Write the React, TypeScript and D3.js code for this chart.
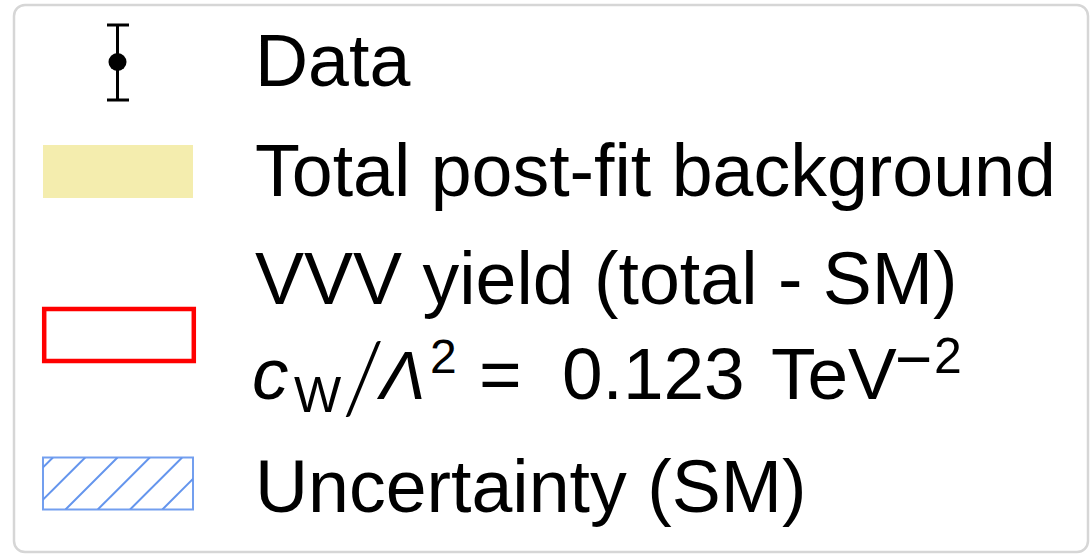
import React from "react";
import * as d3 from "d3";

const W = 1091;
const H = 555;

// Legend entries (labels)
const entryKeys = ["data", "background", "signal", "uncertainty"];
const entryLabels = ["Data", "Total post-fit background", "VVV yield (total - SM)", "Uncertainty (SM)"];
const mathPieces = ["c", "W", "/", "Λ", "2", "=", "0.123", "TeV", "−", "2"];
const entryColors = ["#000000", "#f4edae", "#ff0000", "#6495ed"];

const FONT = "'Liberation Sans', Arial, Helvetica, sans-serif";

export default function App() {
  // vertical slots for each legend row (centre of the handle)
  const rowY = d3.scaleOrdinal<string, number>().domain(entryKeys).range([62, 171.5, 335, 483.5]);
  const textBase = d3.scaleOrdinal<string, number>().domain(entryKeys).range([86, 195.5, 304, 511.5]);
  const handleX = d3.scaleLinear().domain([0, 1]).range([43, 193]);
  const hx0 = handleX(0);
  const hx1 = handleX(1);
  const hw = hx1 - hx0;
  const hh = 52;
  const textX = 255;
  const fs = 73.5;
  const fsSmall = 50;

  const hatchTop = rowY("uncertainty") - hh / 2;
  const hatchBot = rowY("uncertainty") + hh / 2;
  const hatchSpacing = 32.3;
  // lines x + y = const
  const consts = d3.range(575 - hatchSpacing * 8, 575 + hatchSpacing * 8, hatchSpacing);

  return (
    <svg width={W} height={H} style={{ position: "absolute", left: 0, top: 0, background: "#fff" }}>
      <defs>
        <clipPath id="hatchClip">
          <rect x={hx0} y={hatchTop} width={hw} height={hh} />
        </clipPath>
      </defs>
      <rect x={0} y={0} width={W} height={H} fill="#ffffff" />
      {/* frame */}
      <rect x={14} y={5} width={1074} height={547} rx={11} ry={11} fill="#ffffff" stroke="#d6d6d6" strokeWidth={2.5} />

      {/* Data marker */}
      <g stroke={entryColors[0]} strokeWidth={3}>
        <line x1={117.5} x2={117.5} y1={rowY("data") - 37} y2={rowY("data") + 38} />
        <line x1={107} x2={129} y1={rowY("data") - 37} y2={rowY("data") - 37} />
        <line x1={107} x2={129} y1={rowY("data") + 38} y2={rowY("data") + 38} />
      </g>
      <circle cx={117.5} cy={rowY("data")} r={9} fill={entryColors[0]} />

      {/* background patch */}
      <rect x={hx0} y={rowY("background") - 26.5} width={hw} height={53} fill={entryColors[1]} />

      {/* signal patch */}
      <rect x={hx0 + 1.2} y={rowY("signal") - 26} width={hw - 0.4} height={52} fill="none" stroke={entryColors[2]} strokeWidth={4.5} />

      {/* uncertainty hatch */}
      <g clipPath="url(#hatchClip)" stroke={entryColors[3]} strokeWidth={2}>
        {consts.map((c, i) => (
          <line key={i} x1={c - hatchBot} y1={hatchBot} x2={c - hatchTop} y2={hatchTop} />
        ))}
      </g>
      <rect x={hx0} y={hatchTop} width={hw} height={hh} fill="none" stroke={entryColors[3]} strokeWidth={2} opacity={0.9} />

      {/* labels */}
      <g fontFamily={FONT} fontSize={fs} fill="#000">
        <text x={textX} y={textBase("data")}>{entryLabels[0]}</text>
        <text x={textX} y={textBase("background")}>{entryLabels[1]}</text>
        <text x={textX} y={textBase("signal")}>{entryLabels[2]}</text>
        <text y={399} fontSize={73}>
          <tspan x={252} fontStyle="italic">{mathPieces[0]}</tspan>
          <tspan x={294} y={412} fontSize={fsSmall}>{mathPieces[1]}</tspan>
          <tspan x={342} y={413} fontSize={98} fontFamily="Lato, 'Liberation Sans', sans-serif" fontWeight={300}>{mathPieces[2]}</tspan>
          <tspan x={380} y={399} fontSize={68} fontStyle="italic">{mathPieces[3]}</tspan>
          <tspan x={430} y={373} fontSize={48}>{mathPieces[4]}</tspan>
          <tspan x={479} y={399}>{mathPieces[5]}</tspan>
          <tspan x={562} y={399}>{mathPieces[6]}</tspan>
          <tspan x={771} y={399}>{mathPieces[7]}</tspan>
          <tspan x={895} y={381} fontSize={64}>{mathPieces[8]}</tspan>
          <tspan x={934} y={373} fontSize={fsSmall}>{mathPieces[9]}</tspan>
        </text>
        <text x={textX} y={textBase("uncertainty")}>{entryLabels[3]}</text>
      </g>
    </svg>
  );
}
